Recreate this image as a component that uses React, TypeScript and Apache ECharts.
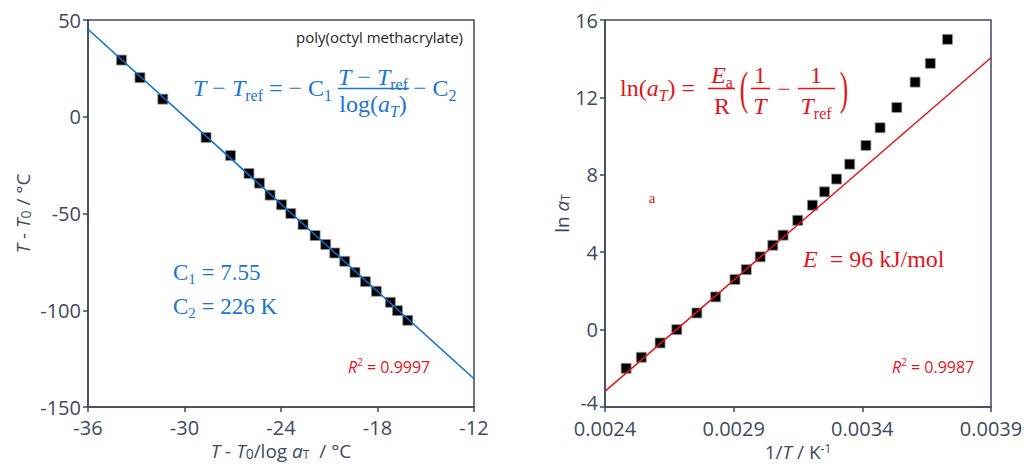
import React, { useEffect, useRef } from "react";
import * as echarts from "echarts";

// ---- Left panel: WLF plot ----
const leftX = [-33.92, -32.77, -31.35, -28.66, -27.14, -25.99, -25.34, -24.68, -23.97, -23.39, -22.63, -21.88, -21.22, -20.66, -20.04, -19.4, -18.75, -18.07, -17.2, -16.76, -16.12];
const leftY = [29.3, 20.2, 9.1, -10.7, -20.0, -29.3, -34.3, -40.5, -45.5, -50.0, -55.7, -61.4, -66.0, -70.4, -74.7, -80.4, -85.2, -90.2, -95.9, -100.2, -105.2];
const leftFitX = [-36, -12];
const leftFitY = [45.2, -135.4];
const leftXTicks = { min: -36, max: -12, interval: 6 };
const leftYTicks = { min: -150, max: 50, interval: 50 };

// ---- Right panel: Arrhenius plot ----
const rightX = [0.002482, 0.002541, 0.002614, 0.002679, 0.002757, 0.00283, 0.002905, 0.002949, 0.003003, 0.003052, 0.003092, 0.003149, 0.003206, 0.003253, 0.0033, 0.003351, 0.003414, 0.003469, 0.003534, 0.003605, 0.003664, 0.003731];
const rightY = [-2.0, -1.43, -0.69, 0.0, 0.86, 1.69, 2.59, 3.1, 3.76, 4.36, 4.88, 5.65, 6.43, 7.12, 7.78, 8.55, 9.52, 10.43, 11.48, 12.79, 13.76, 15.0];
const rightFitX = [0.0024, 0.0039];
const rightFitY = [-3.19, 14.05];
const rightXTickValues = [0.0024, 0.0029, 0.0034, 0.0039];
const rightYTicks = { min: -4, max: 16, interval: 4 };

const AXIS = "#3d4a5c";
const BLUE = "#1c74d3";
const LBLUE = "#0b6fd0";
const RED = "#e3141c";
const SANS = "Open Sans";
const SERIF = "Liberation Serif";

const zip = (a: number[], b: number[]) => a.map((v, i) => [v, b[i]]);

const nameRich = {
  i: { fontFamily: SANS, fontSize: 19, fontStyle: "italic", color: AXIS },
  n: { fontFamily: SANS, fontSize: 19, color: AXIS },
  s: { fontFamily: SANS, fontSize: 12, color: AXIS, verticalAlign: "bottom", lineHeight: 12 },
  z: { fontFamily: SANS, fontSize: 14, color: AXIS, verticalAlign: "bottom", lineHeight: 18 },
  p: { fontFamily: SANS, fontSize: 12, color: AXIS, verticalAlign: "top", lineHeight: 12 },
};

function axisCommon() {
  return {
    axisLine: { show: true, onZero: false, lineStyle: { color: AXIS, width: 1.5 } },
    axisTick: { show: true, inside: false, length: 5, lineStyle: { color: AXIS, width: 1.5 } },
    axisLabel: { color: AXIS, fontFamily: SANS, fontSize: 20, margin: 7, lineHeight: 14 },
    splitLine: { show: false },
    nameLocation: "middle" as const,
    nameTextStyle: { fontFamily: SANS, fontSize: 19, color: AXIS, rich: nameRich },
  };
}

function serifText(x: number, y: number, text: string, fill: string, size: number, align = "left", rich: any = undefined, italic = false, scaleX = 1) {
  return {
    type: "text",
    x,
    y,
    scaleX,
    silent: true,
    style: {
      text,
      fill,
      fontFamily: SERIF,
      fontSize: size,
      fontStyle: italic ? "italic" : "normal",
      align,
      verticalAlign: "middle",
      rich,
    },
  };
}

function mathRich(fill: string, size: number) {
  return {
    m: { fontFamily: SERIF, fontSize: size, fill, lineHeight: size + 6 },
    i: { fontFamily: SERIF, fontSize: size, fill, fontStyle: "italic", lineHeight: size + 6 },
    sub: { fontFamily: SERIF, fontSize: Math.round(size * 0.65), fill, verticalAlign: "bottom", lineHeight: Math.round(size * 0.65) },
    si: { fontFamily: SERIF, fontSize: Math.round(size * 0.65), fill, fontStyle: "italic", verticalAlign: "bottom", lineHeight: Math.round(size * 0.65) },
  };
}

function sansRich(fill: string) {
  return {
    i: { fontFamily: SANS, fontSize: 16, fill, fontStyle: "italic", lineHeight: 20 },
    m: { fontFamily: SANS, fontSize: 16, fill, lineHeight: 20 },
    sup: { fontFamily: SANS, fontSize: 10, fill, verticalAlign: "top", lineHeight: 10 },
  };
}

function fracLine(x1: number, x2: number, y: number, color: string) {
  return { type: "line", silent: true, shape: { x1, y1: y, x2, y2: y }, style: { stroke: color, lineWidth: 1.6 } };
}

export default function App() {
  const ref = useRef<HTMLDivElement>(null);
  useEffect(() => {
    if (!ref.current) return;
    const chart = echarts.init(ref.current, undefined, { renderer: "svg" });
    const bR = mathRich(BLUE, 24);
    const bC = mathRich(BLUE, 23);
    const rR = mathRich(RED, 24);
    const squareStyle = { color: "#000", borderColor: "#999", borderWidth: 0.8, opacity: 1 };
    const option: any = {
      animation: false,
      backgroundColor: "#ffffff",
      grid: [
        { left: 88, top: 20, width: 386, height: 387, show: true, borderColor: AXIS, borderWidth: 1.5, backgroundColor: "transparent" },
        { left: 605, top: 20, width: 386, height: 387, show: true, borderColor: AXIS, borderWidth: 1.5, backgroundColor: "transparent" },
      ],
      xAxis: [
        {
          ...axisCommon(),
          type: "value",
          gridIndex: 0,
          min: leftXTicks.min,
          max: leftXTicks.max,
          interval: leftXTicks.interval,
          axisLabel: { color: AXIS, fontFamily: SANS, fontSize: 20, margin: 12, lineHeight: 16 },
          name: "{i|T} - {i|T}{z|0}/log {i|a}{s|T}  / °C",
          nameGap: 34,
        },
        {
          ...axisCommon(),
          type: "value",
          gridIndex: 1,
          min: 0.0024,
          max: 0.0039,
          axisTick: { show: true, inside: false, length: 5, lineStyle: { color: AXIS, width: 1.5 }, customValues: rightXTickValues },
          axisLabel: { color: AXIS, fontFamily: SANS, fontSize: 20, margin: 13, lineHeight: 16, customValues: rightXTickValues, formatter: (v: number) => v.toFixed(4) },
          name: "1/{i|T} / K{p|-1}",
          nameGap: 34,
        },
      ],
      yAxis: [
        {
          ...axisCommon(),
          type: "value",
          gridIndex: 0,
          min: leftYTicks.min,
          max: leftYTicks.max,
          interval: leftYTicks.interval,
          name: "{i|T} - {i|T}{z|0} / °C",
          nameGap: 56,
        },
        {
          ...axisCommon(),
          type: "value",
          gridIndex: 1,
          min: rightYTicks.min,
          max: rightYTicks.max,
          interval: rightYTicks.interval,
          axisLabel: {
            color: AXIS, fontFamily: SANS, fontSize: 20, margin: 7, lineHeight: 14,
            formatter: (v: number) => (v === rightYTicks.min ? "{up|" + v + "}" : String(v)),
            rich: { up: { color: AXIS, fontFamily: SANS, fontSize: 20, lineHeight: 14, padding: [0, 0, 9, 0] } },
          },
          name: "ln {i|a}{s|T}",
          nameGap: 24,
        },
      ],
      series: [
        {
          type: "scatter",
          xAxisIndex: 0,
          yAxisIndex: 0,
          data: zip(leftX, leftY),
          symbol: "rect",
          symbolSize: 10,
          itemStyle: squareStyle,
          z: 2,
        },
        {
          type: "line",
          xAxisIndex: 0,
          yAxisIndex: 0,
          data: zip(leftFitX, leftFitY),
          showSymbol: false,
          lineStyle: { color: LBLUE, width: 1.5 },
          z: 3,
        },
        {
          type: "scatter",
          xAxisIndex: 1,
          yAxisIndex: 1,
          data: zip(rightX, rightY),
          symbol: "rect",
          symbolSize: 10,
          itemStyle: squareStyle,
          z: 2,
        },
        {
          type: "line",
          xAxisIndex: 1,
          yAxisIndex: 1,
          data: zip(rightFitX, rightFitY),
          showSymbol: false,
          lineStyle: { color: RED, width: 1.5 },
          z: 3,
        },
      ],
      graphic: [
        // left panel annotations
        {
          type: "text", x: 463, y: 37, silent: true,
          style: { text: "poly(octyl methacrylate)", fill: "#231f20", fontFamily: SANS, fontSize: 15, align: "right", verticalAlign: "middle" },
        },
        serifText(193, 88, "{i|T} {m|− }{i|T}{sub|ref}{m| = − C}{sub|1}", BLUE, 24, "left", bR),
        serifText(373, 77, "{i|T} {m|− }{i|T}{sub|ref}", BLUE, 24, "center", bR),
        fracLine(338, 409, 88.5, BLUE),
        serifText(373, 104, "{m|log(}{i|a}{si|T}{m|)}", BLUE, 24, "center", bR),
        serifText(413, 88, "{m|− C}{sub|2}", BLUE, 24, "left", bR),
        serifText(173, 272, "{m|C}{sub|1}{m| = 7.55}", BLUE, 23, "left", bC),
        serifText(173, 306, "{m|C}{sub|2}{m| = 226 K}", BLUE, 23, "left", bC),
        {
          type: "text", x: 348, y: 367, silent: true,
          style: { text: "{i|R}{sup|2}{m| = 0.9997}", fill: RED, fontFamily: SANS, fontSize: 16, align: "left", verticalAlign: "middle", rich: sansRich(RED) },
        },
        // right panel annotations
        serifText(620, 88, "{m|ln(}{i|a}{si|T}{m|) =}", RED, 24, "left", rR),
        serifText(722, 75, "{i|E}{sub|a}", RED, 24, "center", rR),
        fracLine(708, 735, 88.5, RED),
        serifText(722, 106, "{m|R}", RED, 24, "center", rR),
        serifText(744, 89, "(", RED, 46, "center", undefined, false, 0.55),
        serifText(760, 75, "1", RED, 24, "center"),
        fracLine(751, 770, 88.5, RED),
        serifText(760, 106, "T", RED, 24, "center", undefined, true),
        serifText(784, 89, "−", RED, 24, "center"),
        serifText(816, 75, "1", RED, 24, "center"),
        fracLine(798, 835, 88.5, RED),
        serifText(816, 106, "{i|T}{sub|ref}", RED, 24, "center", rR),
        serifText(844, 89, ")", RED, 46, "center", undefined, false, 0.55),
        serifText(652, 198, "a", RED, 15, "center"),
        serifText(803, 259, "{i|E}{m|  = 96 kJ/mol}", RED, 24, "left", rR),
        {
          type: "text", x: 892, y: 367, silent: true,
          style: { text: "{i|R}{sup|2}{m| = 0.9987}", fill: RED, fontFamily: SANS, fontSize: 16, align: "left", verticalAlign: "middle", rich: sansRich(RED) },
        },
      ],
    };
    chart.setOption(option);
    return () => chart.dispose();
  }, []);
  return <div ref={ref} style={{ position: "fixed", left: 0, top: 0, width: 1028, height: 470 }} />;
}
